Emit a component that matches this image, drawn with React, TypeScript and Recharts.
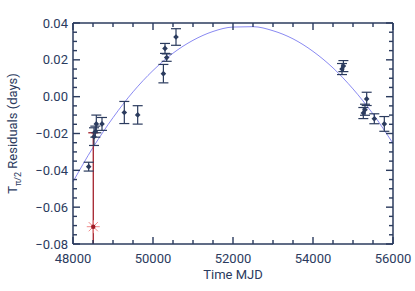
import React from "react";
import { ComposedChart, ErrorBar, Line, Scatter, XAxis, YAxis } from "recharts";

const INK = "rgb(43, 59, 94)";
const FIT = "rgb(138, 138, 242)";
const FONT = "Roboto, 'Open Sans', sans-serif";

const W = 415;
const H = 291;
const LEFT_W = 73;
const RIGHT_W = 22;
const TOP_H = 23;
const BOTTOM_H = 47;

// timing residuals
const OBS_MJD = [48392, 48525, 48558, 48583, 48725, 49283, 49617, 50260, 50300, 50342, 50575, 54725, 54760, 55258, 55300, 55342, 55533, 55783];
const OBS_RES = [-0.038, -0.0217, -0.019, -0.0148, -0.0148, -0.0086, -0.0099, 0.0125, 0.0262, 0.0212, 0.0324, 0.015, 0.0166, -0.0089, -0.0071, -0.0012, -0.012, -0.0148];
const OBS_ERR = [0.0024, 0.0048, 0.003, 0.0048, 0.0035, 0.006, 0.005, 0.005, 0.0027, 0.002, 0.0045, 0.003, 0.003, 0.003, 0.003, 0.0036, 0.0027, 0.004];

// the rejected point (red asterisk)
const OUT_MJD = [48507];
const OUT_RES = [-0.0706];
const OUT_ERR = [0.051];

// fitted curve
const FIT_MJD = [48000, 48500, 49000, 49500, 50000, 50500, 51000, 51500, 52000, 52500, 53000, 53500, 54000, 54500, 55000, 55500, 56000];
const FIT_RES = [-0.0462, -0.0276, -0.0114, 0.0026, 0.0142, 0.0236, 0.0306, 0.0354, 0.0378, 0.038, 0.0358, 0.0314, 0.0246, 0.0156, 0.0042, -0.0094, -0.0254];

const X_TICKS = [48000, 48500, 49000, 49500, 50000, 50500, 51000, 51500, 52000, 52500, 53000, 53500, 54000, 54500, 55000, 55500, 56000];
const Y_TICKS = [
  -0.08, -0.075, -0.07, -0.065, -0.06, -0.055, -0.05, -0.045, -0.04, -0.035, -0.03, -0.025, -0.02,
  -0.015, -0.01, -0.005, 0, 0.005, 0.01, 0.015, 0.02, 0.025, 0.03, 0.035, 0.04,
];

const obs = OBS_MJD.map((mjd, i) => ({ mjd, res: OBS_RES[i], err: OBS_ERR[i] }));
const outlier = OUT_MJD.map((mjd, i) => ({ mjd, res: OUT_RES[i], err: OUT_ERR[i] }));
const fit = FIT_MJD.map((mjd, i) => ({ mjd, fit: FIT_RES[i] }));

const isMajorX = (v: number) => v % 2000 === 0;
const isMajorY = (v: number) => Math.round(v * 1000) % 20 === 0;
const fmtY = (v: number) => (Math.abs(v) < 1e-9 ? "0.00" : (v < 0 ? "\u2212" : "") + Math.abs(v).toFixed(2));

const TEXT = { fill: INK, fontFamily: FONT, fontSize: 13 };
const TW = 1.4; // tick thickness

// IDL-style ticks: all pointing into the frame
function BottomTick(props: any) {
  const x = Number(props.x);
  const y = Number(props.y);
  const len = isMajorX(props.payload.value) ? 7 : 4;
  return (
    <g>
      <rect x={x - TW / 2} y={y - len} width={TW} height={len} fill={INK} stroke="none" />
      {len === 7 && (
        <text x={x} y={y + 19} textAnchor="middle" {...TEXT}>
          {props.payload.value}
        </text>
      )}
    </g>
  );
}

function TopTick(props: any) {
  const x = Number(props.x);
  const y = Number(props.y);
  const len = isMajorX(props.payload.value) ? 7 : 4;
  return <rect x={x - TW / 2} y={y} width={TW} height={len} fill={INK} stroke="none" />;
}

function LeftTick(props: any) {
  const x = Number(props.x);
  const y = Number(props.y);
  const len = isMajorY(props.payload.value) ? 7 : 4;
  return (
    <g>
      <rect x={x} y={y - TW / 2} width={len} height={TW} fill={INK} stroke="none" />
      {len === 7 && (
        <text x={x - 5} y={y + 4.5} textAnchor="end" {...TEXT}>
          {fmtY(props.payload.value)}
        </text>
      )}
    </g>
  );
}

function RightTick(props: any) {
  const x = Number(props.x);
  const y = Number(props.y);
  const len = isMajorY(props.payload.value) ? 7 : 4;
  return <rect x={x - len} y={y - TW / 2} width={len} height={TW} fill={INK} stroke="none" />;
}

function Diamond({ cx, cy }: any) {
  return <path d={`M${cx},${cy - 2.8}L${cx + 2.8},${cy}L${cx},${cy + 2.8}L${cx - 2.8},${cy}Z`} fill={INK} />;
}

function Asterisk({ cx, cy }: any) {
  const r = 6.5;
  const angles = [0, 45, 90, 135];
  return (
    <g>
      {angles.map((a) => {
        const dx = r * Math.cos((a * Math.PI) / 180);
        const dy = r * Math.sin((a * Math.PI) / 180);
        return <line key={a} x1={cx - dx} y1={cy - dy} x2={cx + dx} y2={cy + dy} stroke="#f08a8a" strokeWidth={1} />;
      })}
      <circle cx={cx} cy={cy} r={2.2} fill="#9e1b24" />
    </g>
  );
}

function YLabel({ viewBox }: any) {
  const cx = viewBox.x + 17;
  const cy = viewBox.y + viewBox.height / 2;
  return (
    <text transform={`translate(${cx},${cy}) rotate(-90)`} textAnchor="middle" {...TEXT}>
      T
      <tspan fontSize={9} dy={4}>
        {"\u03c0/2"}
      </tspan>
      <tspan dy={-4}> Residuals (days)</tspan>
    </text>
  );
}

function XLabel({ viewBox }: any) {
  return (
    <text x={viewBox.x + viewBox.width / 2} y={viewBox.y + 35} textAnchor="middle" {...TEXT}>
      Time MJD
    </text>
  );
}

export default function App() {
  return (
    <div style={{ position: "absolute", left: 0, top: 0, background: "#fff" }}>
      <ComposedChart width={W} height={H} margin={{ top: 0, right: 0, bottom: 0, left: 0 }}>
        <defs>
          <clipPath id="plotClip">
            <rect x={LEFT_W} y={TOP_H} width={W - LEFT_W - RIGHT_W} height={H - TOP_H - BOTTOM_H} />
          </clipPath>
        </defs>
        <XAxis
          dataKey="mjd"
          type="number"
          domain={[48000, 56000]}
          ticks={X_TICKS}
          interval={0}
          allowDataOverflow
          height={BOTTOM_H}
          tickSize={0}
          tickMargin={0}
          tickLine={false}
          tick={<BottomTick />}
          axisLine={{ stroke: INK, strokeWidth: 1.5 }}
          label={{ content: <XLabel /> }}
        />
        <XAxis
          xAxisId="top"
          orientation="top"
          dataKey="mjd"
          type="number"
          domain={[48000, 56000]}
          ticks={X_TICKS}
          interval={0}
          height={TOP_H}
          tickSize={0}
          tickMargin={0}
          tickLine={false}
          tick={<TopTick />}
          axisLine={{ stroke: INK, strokeWidth: 1.5 }}
        />
        <YAxis
          type="number"
          domain={[-0.08, 0.04]}
          ticks={Y_TICKS}
          interval={0}
          allowDataOverflow
          width={LEFT_W}
          tickSize={0}
          tickMargin={0}
          tickLine={false}
          tick={<LeftTick />}
          axisLine={{ stroke: INK, strokeWidth: 1.5 }}
          label={{ content: <YLabel /> }}
        />
        <YAxis
          yAxisId="right"
          orientation="right"
          type="number"
          domain={[-0.08, 0.04]}
          ticks={Y_TICKS}
          interval={0}
          width={RIGHT_W}
          tickSize={0}
          tickMargin={0}
          tickLine={false}
          tick={<RightTick />}
          axisLine={{ stroke: INK, strokeWidth: 1.5 }}
        />
        {/* fit is plotted against the top/right frame axes (same domains) so those axes get drawn */}
        <Line
          xAxisId="top"
          yAxisId="right"
          data={fit}
          dataKey="fit"
          type="monotone"
          stroke={FIT}
          strokeWidth={1}
          dot={false}
          activeDot={false}
          isAnimationActive={false}
        />
        <Scatter data={outlier} dataKey="res" shape={<Asterisk />} isAnimationActive={false}>
          <ErrorBar
            dataKey="err"
            direction="y"
            width={5}
            stroke="#a3202b"
            strokeWidth={1.3}
            clipPath="url(#plotClip)"
            isAnimationActive={false}
          />
        </Scatter>
        <Scatter data={obs} dataKey="res" shape={<Diamond />} isAnimationActive={false}>
          <ErrorBar dataKey="err" direction="y" width={5} stroke={INK} strokeWidth={1.2} isAnimationActive={false} />
        </Scatter>
      </ComposedChart>
    </div>
  );
}
